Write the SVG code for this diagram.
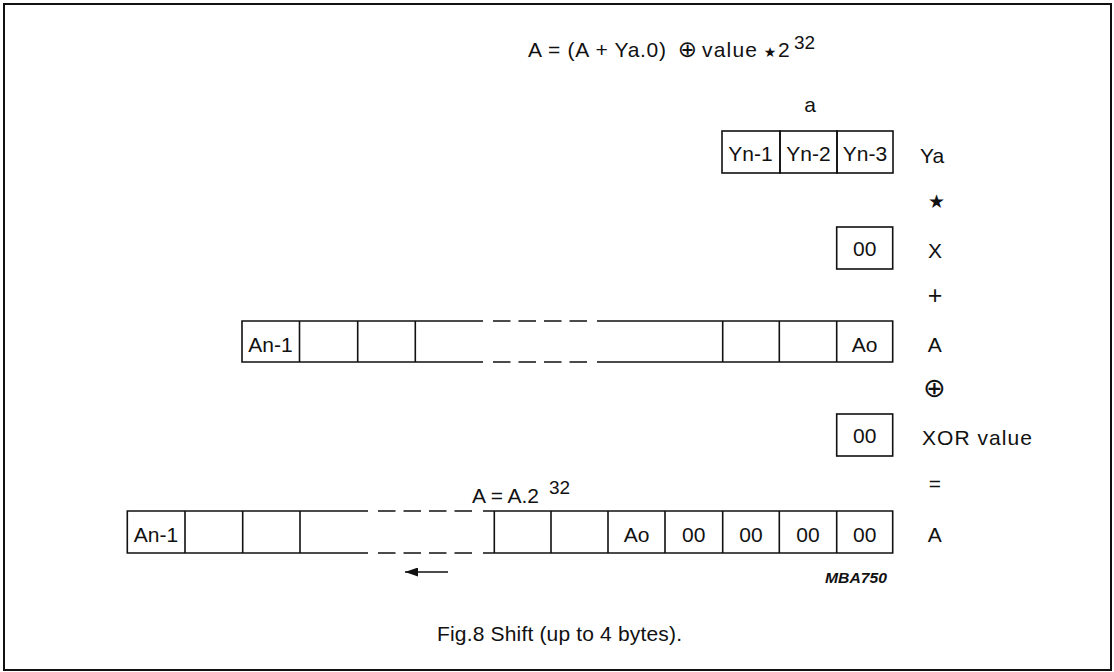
<svg xmlns="http://www.w3.org/2000/svg" width="1114" height="672" viewBox="0 0 1114 672">
  <style>
    .t { font-family: "Liberation Sans", Arial, sans-serif; font-size: 21px; fill: #111; }
    .c { text-anchor: middle; }
    .sup { font-size: 19px; }
    .sym { font-family: "DejaVu Sans", sans-serif; fill: #111; text-anchor: middle; }
    .ln { stroke: #111; stroke-width: 1.6; fill: none; }
    .cell { stroke: #111; stroke-width: 1.6; fill: none; }
    .dash { stroke: #111; stroke-width: 1.6; fill: none; stroke-dasharray: 17.5 8; }
    .frame { stroke: #111; stroke-width: 2; fill: none; }
  </style>
  <defs>
    <marker id="head" viewBox="0 0 13 9" refX="13" refY="4.5" markerWidth="13" markerHeight="9" markerUnits="userSpaceOnUse" orient="auto">
      <path d="M0,0 L13,4.5 L0,9 Z" fill="#111"/>
    </marker>
  </defs>

  <rect width="1114" height="672" fill="#fff"/>
  <rect id="frame" class="frame" x="4" y="4" width="1107" height="666"/>

  <!-- top formula -->
  <g id="formula">
    <text class="t" x="528" y="57" textLength="138" lengthAdjust="spacing">A = (A + Ya.0)</text>
    <text class="sym" x="687.5" y="57" font-size="23">⊕</text>
    <text class="t" x="702" y="57" textLength="55" lengthAdjust="spacing">value</text>
    <text class="sym" x="770" y="57" font-size="14">★</text>
    <text class="t" x="778" y="57">2</text>
    <text class="t sup" x="794" y="49">32</text>
  </g>

  <!-- Ya byte group -->
  <g id="row-ya">
    <text class="t c" x="810" y="112">a</text>
    <rect class="cell" x="722" y="131" width="58" height="42"/>
    <rect class="cell" x="780" y="131" width="57" height="42"/>
    <rect class="cell" x="837" y="131" width="56" height="42"/>
    <text class="t c" x="750.5" y="161">Yn-1</text>
    <text class="t c" x="808.5" y="161">Yn-2</text>
    <text class="t c" x="865" y="161">Yn-3</text>
  </g>

  <!-- X byte -->
  <g id="row-x">
    <rect class="cell" x="836.7" y="227" width="56" height="42"/>
    <text class="t c" x="864.7" y="256">00</text>
  </g>

  <!-- accumulator A -->
  <g id="row-a">
    <path class="ln" d="M483,321 H242 V362 H483 M597,321 H892.7 V362 H597"/>
    <path class="dash" d="M493,321 H587 M493,362 H587"/>
    <path class="ln" d="M299.5,321 V362 M357.7,321 V362 M415.3,321 V362 M722.7,321 V362 M779.3,321 V362 M836.7,321 V362"/>
    <text class="t c" x="270.5" y="352">An-1</text>
    <text class="t c" x="864.7" y="352">Ao</text>
  </g>

  <!-- XOR value byte -->
  <g id="row-xor">
    <rect class="cell" x="836.7" y="414" width="56" height="42"/>
    <text class="t c" x="864.7" y="443">00</text>
  </g>

  <!-- shifted result -->
  <g id="row-shifted">
    <text class="t" x="472" y="503" textLength="67" lengthAdjust="spacing">A = A.2</text>
    <text class="t sup" x="549" y="494">32</text>
    <path class="ln" d="M368,511 H127.3 V553 H368 M483,511 H892.7 V553 H483"/>
    <path class="dash" d="M378,511 H472 M378,553 H472"/>
    <path class="ln" d="M185,511 V553 M242.7,511 V553 M300,511 V553 M494.3,511 V553 M551,511 V553 M608,511 V553 M665,511 V553 M722.7,511 V553 M779.3,511 V553 M836.7,511 V553"/>
    <text class="t c" x="156" y="542">An-1</text>
    <text class="t c" x="636.5" y="542">Ao</text>
    <text class="t c" x="693.8" y="542">00</text>
    <text class="t c" x="751" y="542">00</text>
    <text class="t c" x="808" y="542">00</text>
    <text class="t c" x="864.7" y="542">00</text>
  </g>

  <!-- right-hand operand / operator column -->
  <g id="labels">
    <text class="t" x="920" y="163">Ya</text>
    <text class="sym" x="936.5" y="208" font-size="19">★</text>
    <text class="t" x="928" y="258">X</text>
    <text class="t c" x="935" y="304" style="font-size:25px">+</text>
    <text class="t" x="927.7" y="352">A</text>
    <text class="sym" x="934.5" y="397" font-size="27">⊕</text>
    <text class="t" x="922" y="445" textLength="110" lengthAdjust="spacing">XOR value</text>
    <text class="t c" x="935" y="491">=</text>
    <text class="t" x="927.7" y="542">A</text>
  </g>

  <!-- shift direction -->
  <g id="connectors">
    <line class="ln" x1="448" y1="572" x2="405" y2="572" stroke-width="2.2" marker-end="url(#head)"/>
  </g>

  <g id="caption">
    <text class="t" x="825" y="583" style="font-size:14px;font-weight:bold;font-style:italic" textLength="62" lengthAdjust="spacingAndGlyphs">MBA750</text>
    <text class="t" x="437" y="641" textLength="245" lengthAdjust="spacing">Fig.8  Shift (up to 4 bytes).</text>
  </g>
</svg>
